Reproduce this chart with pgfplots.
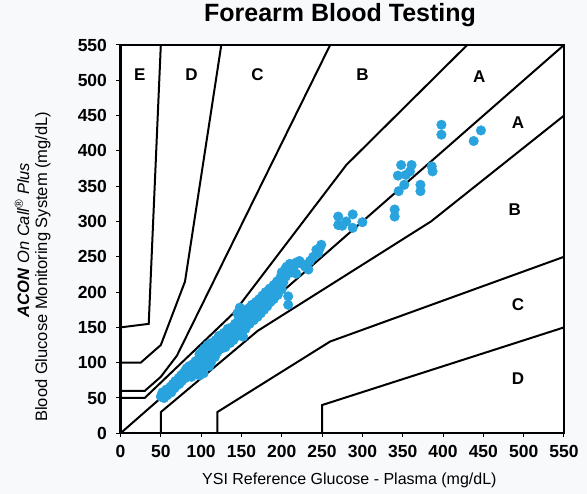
\documentclass[border=0pt]{standalone}
\usepackage{fontspec}
\setmainfont{Liberation Sans}
\usepackage{pgfplots}
\pgfplotsset{compat=1.18}
\definecolor{pt}{RGB}{41,163,222}
\definecolor{bg}{RGB}{248,249,251}
\begin{document}
\begin{tikzpicture}
\path[use as bounding box, fill=bg] (-120.5pt,-60.7pt) rectangle (466.5pt,433.3pt);
\begin{axis}[at={(0,0)}, anchor=south west, scale only axis,
  width=443.5pt, height=388.3pt,
  xmin=0, xmax=550, ymin=0, ymax=550,
  xtick={0,50,...,550}, ytick={0,50,...,550},
  tick align=outside, tick pos=left, major tick length=4pt,
  axis line style={line width=2.2pt},
  every tick/.style={black, line width=1pt},
  axis background/.style={fill=white},
  /pgf/number format/assume math mode=true,
  ticklabel style={font=\fontsize{17.5}{17.5}\selectfont\bfseries},
  xticklabel style={yshift=-4pt},
  yticklabel style={xshift=-6pt},
  xlabel={YSI Reference Glucose - Plasma (mg/dL)},
  xlabel style={font=\fontsize{16}{16}\selectfont, at={(axis description cs:0.516,-0.121)}, anchor=center},
  title={Forearm Blood Testing},
  title style={font=\fontsize{25}{25}\selectfont\bfseries, at={(axis description cs:0.495,1.062)}, anchor=center},
  clip=false]
% data
\addplot[only marks, mark=*, mark size=4.8pt, mark options={fill=pt, draw=pt}] coordinates {
(50,52)(52,58)(54,50)(55,55)(57,62)(58,54)(60,60)(62,66)(63,58)(65,70)(67,64)(68,74)(70,68)(72,78)(73,70)(75,82)(76,74)(78,85)(80,78)(80,88)(82,92)(84,84)(85,95)(87,88)(88,80)(90,98)(90,90)(92,86)(93,102)(95,95)(96,88)(97,105)(98,112)(98,82)(100,100)(100,92)(101,116)(102,108)(103,85)(104,120)(105,98)(106,112)(107,104)(108,125)(110,118)(110,108)(110,95)(112,100)(113,128)(115,115)(116,122)(117,108)(118,132)(120,125)(120,115)(122,138)(123,128)(125,120)(126,134)(128,142)(130,130)(130,122)(132,140)(133,148)(135,135)(136,128)(138,150)(140,142)(140,132)(142,155)(144,146)(145,138)(145,170)(146,160)(148,150)(148,178)(150,165)(150,142)(152,172)(152,137)(153,156)(155,148)(156,175)(158,162)(160,178)(160,155)(162,168)(163,182)(165,160)(166,172)(168,186)(170,165)(170,178)(172,190)(174,170)(175,182)(176,195)(178,175)(180,188)(180,200)(182,180)(184,194)(185,205)(186,186)(188,198)(190,210)(190,190)(192,202)(194,215)(195,196)(197,208)(198,220)(200,204)(200,228)(202,214)(204,232)(205,222)(206,236)(208,182)(208,194)(210,240)(212,228)(215,236)(218,242)(218,226)(222,244)(225,240)(229,236)(233,232)(235,244)(239,250)(243,260)(245,255)(247,262)(249,267)
(270,307)(270,295)(275,294)(280,300)(288,310)(288,291)(300,299)
(340,317)(340,307)(345,343)(352,352)(344,365)(354,366)(359,371)(348,380)(361,380)(386,378)(387,371)(372,352)(372,343)
(398,437)(398,423)(447,429)(438,414)
};
% grid lines
\addplot[black, line width=2pt, no marks] coordinates {(0,0)(550,550)};
\addplot[black, line width=2pt, no marks] coordinates {(0,50)(30,50)(140,170)(280,380)(430,550)};
\addplot[black, line width=2pt, no marks] coordinates {(50,0)(50,30)(170,145)(385,300)(550,450)};
\addplot[black, line width=2pt, no marks] coordinates {(0,60)(30,60)(50,80)(70,110)(260,550)};
\addplot[black, line width=2pt, no marks] coordinates {(120,0)(120,30)(260,130)(550,250)};
\addplot[black, line width=2pt, no marks] coordinates {(0,100)(25,100)(50,125)(80,215)(125,550)};
\addplot[black, line width=2pt, no marks] coordinates {(250,0)(250,40)(550,150)};
\addplot[black, line width=2pt, no marks] coordinates {(0,150)(35,155)(50,550)};
% zone labels
\begin{scope}[every node/.style={font=\fontsize{17}{17}\selectfont\bfseries}]
\node at (axis cs:24,508) {E};
\node at (axis cs:88,508) {D};
\node at (axis cs:170,508) {C};
\node at (axis cs:300,508) {B};
\node at (axis cs:445,505) {A};
\node at (axis cs:493,440) {A};
\node at (axis cs:489,317) {B};
\node at (axis cs:493,182) {C};
\node at (axis cs:493,78) {D};
\end{scope}
% y label
\node[rotate=90, font=\fontsize{16.5}{16.5}\selectfont] at (axis description cs:-0.222,0.498) {\textbf{\textit{ACON}} \textit{On Call\textsuperscript{®} Plus}};
\node[rotate=90, font=\fontsize{16.5}{16.5}\selectfont] at (axis description cs:-0.175,0.429) {Blood Glucose Monitoring System (mg/dL)};
\end{axis}
\end{tikzpicture}
\end{document}
